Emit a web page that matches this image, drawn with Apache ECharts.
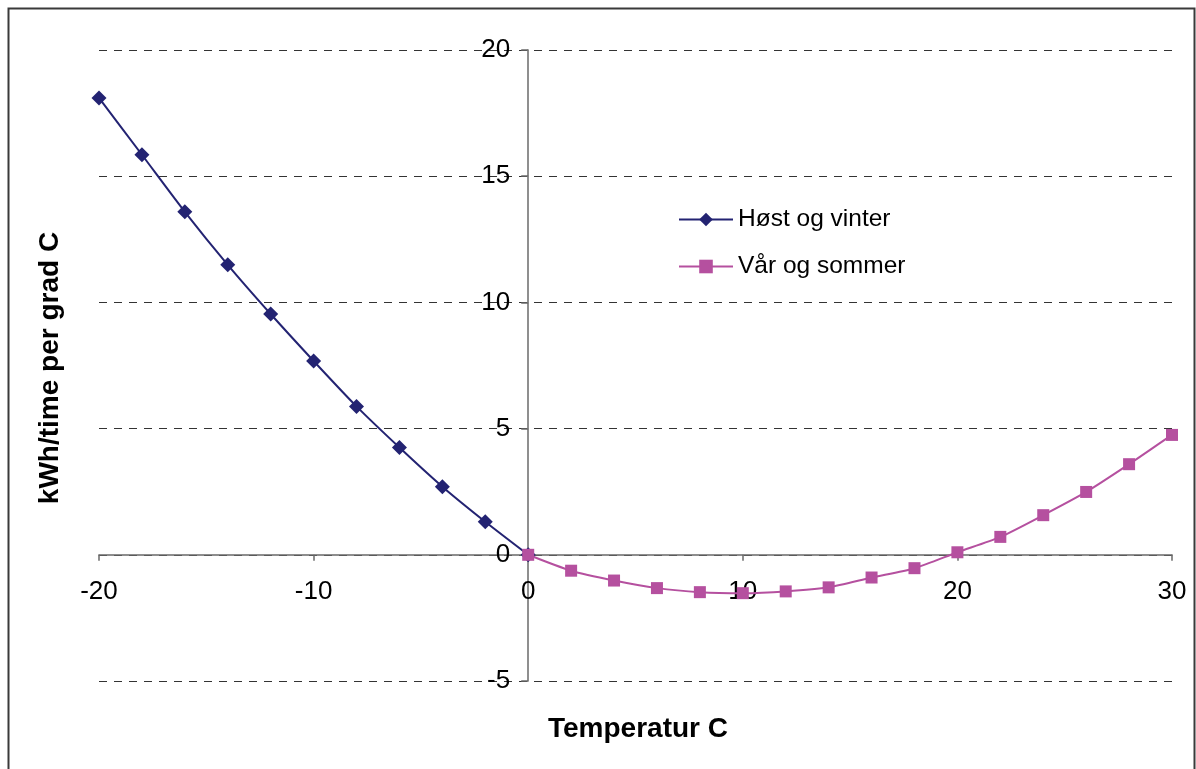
<!DOCTYPE html>
<html>
<head>
<meta charset="utf-8">
<style>
  html, body { margin: 0; padding: 0; background: #fff; }
  #chart { width: 1196px; height: 769px; }
</style>
<script src="https://cdn.jsdelivr.net/npm/echarts@6/dist/echarts.min.js"></script>
</head>
<body>
<div id="chart"></div>
<script>
// Temperature (°C) and energy per degree (kWh/time per grad C)
const hostTemps = [-20.33, -20, -18, -16, -14, -12, -10, -8, -6, -4, -2, 0];
const hostValues = [18.46, 18.1, 15.85, 13.59, 11.49, 9.54, 7.68, 5.88, 4.25, 2.70, 1.31, 0];
const varTemps = [0, 2, 4, 6, 8, 10, 12, 14, 16, 18, 20, 22, 24, 26, 28, 30, 30.43];
const varValues = [0, -0.63, -1.02, -1.32, -1.48, -1.52, -1.45, -1.29, -0.90, -0.53, 0.10, 0.71, 1.57, 2.49, 3.59, 4.75, 4.97];
// points beyond the plotted range carry the curve's end but no marker
const hostUnmarked = [-20.33];
const varUnmarked = [30.43];

const seriesNames = ['Høst og vinter', 'Vår og sommer'];
const xTitle = 'Temperatur C';
const yTitle = 'kWh/time per grad C';

const X_MIN = -20, X_MAX = 30, Y_MIN = -5, Y_MAX = 20;

const FONT = '"Liberation Sans", Arial, sans-serif';
const NAVY = '#232372';
const MAGENTA = '#b5509f';
const AXIS_GREY = '#6a6a6a';

// plot rectangle
const GRID = { left: 99, right: 24, top: 50, bottom: 88 };
const W = 1196, H = 769;
const plotW = W - GRID.left - GRID.right;
const plotH = H - GRID.top - GRID.bottom;
// the axes cross at zero: shift each axis from the grid edge to the zero line
const yAxisShift = plotW * (0 - X_MIN) / (X_MAX - X_MIN);
const xAxisShift = plotH * (0 - Y_MIN) / (Y_MAX - Y_MIN);

function pairs(xs, ys, unmarked) {
  return xs.map((x, i) => unmarked.includes(x)
    ? { value: [x, ys[i]], symbol: 'none' }
    : [x, ys[i]]);
}

const chart = echarts.init(document.getElementById('chart'));
chart.setOption({
  animation: false,
  backgroundColor: '#fff',
  grid: Object.assign({ containLabel: false }, GRID),
  xAxis: {
    type: 'value', min: X_MIN, max: X_MAX, interval: 10,
    position: 'bottom', offset: -xAxisShift,
    axisLine: { onZero: false, lineStyle: { color: AXIS_GREY, width: 1.5 } },
    axisTick: { show: true, inside: false, length: 6, lineStyle: { color: AXIS_GREY, width: 1.5 } },
    axisLabel: { color: '#000', fontFamily: FONT, fontSize: 26, margin: 24 },
    splitLine: { show: false }
  },
  yAxis: {
    type: 'value', min: Y_MIN, max: Y_MAX, interval: 5,
    position: 'left', offset: -yAxisShift,
    axisLine: { show: true, onZero: false, lineStyle: { color: AXIS_GREY, width: 1.5 } },
    axisTick: { show: true, inside: false, length: 7, lineStyle: { color: AXIS_GREY, width: 1.5 } },
    axisLabel: { color: '#000', fontFamily: FONT, fontSize: 26, margin: 18 },
    splitLine: { show: true, lineStyle: { color: '#333', width: 1, type: [8, 7] } }
  },
  legend: {
    orient: 'vertical', left: 673, top: 202,
    itemWidth: 54, itemHeight: 17, itemGap: 22,
    textStyle: { color: '#000', fontFamily: FONT, fontSize: 24.5 },
    data: seriesNames
  },
  series: [
    {
      name: seriesNames[0], type: 'line', smooth: 0.25, clip: false,
      data: pairs(hostTemps, hostValues, hostUnmarked),
      symbol: 'diamond', symbolSize: 15,
      lineStyle: { color: NAVY, width: 2 },
      itemStyle: { color: NAVY }
    },
    {
      name: seriesNames[1], type: 'line', smooth: 0.25, clip: false,
      data: pairs(varTemps, varValues, varUnmarked),
      symbol: 'rect', symbolSize: 12,
      lineStyle: { color: MAGENTA, width: 2 },
      itemStyle: { color: MAGENTA }
    }
  ],
  graphic: [
    {
      type: 'rect', left: 6, top: 6, silent: true,
      shape: { width: 1186, height: 800 },
      style: { fill: 'none', stroke: '#3a3a3a', lineWidth: 2 }
    },
    {
      type: 'text', silent: true,
      x: 638, y: 729,
      style: { text: xTitle, fontFamily: FONT, fontSize: 28, fontWeight: 'bold', fill: '#000', align: 'center', verticalAlign: 'middle' }
    },
    {
      type: 'text', silent: true,
      x: 50, y: 368, rotation: Math.PI / 2,
      style: { text: yTitle, fontFamily: FONT, fontSize: 28, fontWeight: 'bold', fill: '#000', align: 'center', verticalAlign: 'middle' }
    }
  ]
});
</script>
</body>
</html>
